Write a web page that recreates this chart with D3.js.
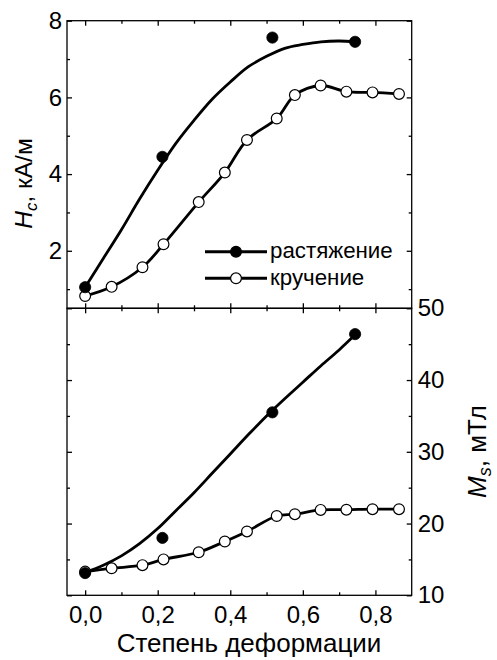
<!DOCTYPE html>
<html>
<head>
<meta charset="utf-8">
<script src="https://cdn.jsdelivr.net/npm/d3@7"></script>
<style>
  html, body { margin: 0; padding: 0; background: #fff; }
  svg { display: block; }
  text { font-family: "Liberation Sans", Arial, sans-serif; fill: #000; }
</style>
</head>
<body>
<svg id="chart" width="497" height="660"></svg>
<script>
// ---- data ----
const strainTension = [0.0, 0.213, 0.516, 0.744];
const hcTension = [1.05, 4.45, 7.56, 7.45];
const msTension = [13.1, 18.0, 35.5, 46.4];

const strainTorsion = [0.0, 0.073, 0.158, 0.216, 0.313, 0.385, 0.446, 0.528, 0.578, 0.649, 0.720, 0.792, 0.865];
const hcTorsion = [0.82, 1.06, 1.57, 2.17, 3.27, 4.04, 4.89, 5.45, 6.06, 6.31, 6.15, 6.13, 6.09];
const msTorsion = [13.3, 13.76, 14.2, 15.0, 16.0, 17.5, 18.9, 21.05, 21.3, 21.9, 21.93, 22.0, 22.0];

// fitted curves for tension
const fitStrain = [0, 0.05, 0.1, 0.15, 0.2, 0.25, 0.3, 0.35, 0.4, 0.45, 0.5, 0.55, 0.6, 0.65, 0.7, 0.744];
const hcFit = [1.05, 1.8, 2.55, 3.35, 4.1, 4.8, 5.4, 5.95, 6.4, 6.8, 7.07, 7.28, 7.38, 7.45, 7.47, 7.45];
const msFit = [13.2, 14.2, 15.5, 17.2, 19.3, 21.8, 24.3, 27.0, 29.7, 32.4, 35.0, 37.4, 39.7, 42.0, 44.2, 46.3];

const xMajorTicks = [0.0, 0.2, 0.4, 0.6, 0.8];
const xMinorTicks = [0.1, 0.3, 0.5, 0.7];
const hcMajorTicks = [2, 4, 6, 8];
const hcMinorTicks = [1, 3, 5, 7];
const msMajorTicks = [10, 20, 30, 40, 50];
const msMinorTicks = [15, 25, 35, 45];

const legendLabels = ["растяжение", "кручение"];
const xTitle = "Степень деформации";

// ---- layout ----
const L = 67, R = 411.7, T = 20.7, MID = 308.3, B = 595.3;
const svg = d3.select("#chart");

const x = d3.scaleLinear().domain([-0.05, 0.9]).range([L, R]);
const yH = d3.scaleLinear().domain([0.5, 8]).range([MID, T]);
const yM = d3.scaleLinear().domain([10, 50]).range([B, MID]);

const commaFmt = d => d3.format(".1f")(d).replace(".", ",");
const FS = 24;

function styleAxis(g) {
  g.select(".domain").remove();
  g.selectAll(".tick line").attr("stroke", "#000").attr("stroke-width", 1.3);
  g.selectAll(".tick text").attr("font-size", FS).attr("font-family", "'Liberation Sans', Arial, sans-serif").attr("fill", "#000");
}

function panelAxes(yScale, yMaj, yMin, top, bottom, showLeftLabels, showRightLabels, showBottomLabels) {
  // bottom
  svg.append("g").attr("transform", `translate(0,${bottom})`)
    .call(d3.axisBottom(x).tickValues(xMajorTicks).tickSize(-5).tickPadding(showBottomLabels ? 11 : 0)
      .tickFormat(showBottomLabels ? commaFmt : () => ""))
    .call(styleAxis);
  svg.append("g").attr("transform", `translate(0,${bottom})`)
    .call(d3.axisBottom(x).tickValues(xMinorTicks).tickSize(-3).tickFormat(() => ""))
    .call(styleAxis);
  // top
  svg.append("g").attr("transform", `translate(0,${top})`)
    .call(d3.axisTop(x).tickValues(xMajorTicks).tickSize(-5).tickFormat(() => ""))
    .call(styleAxis);
  svg.append("g").attr("transform", `translate(0,${top})`)
    .call(d3.axisTop(x).tickValues(xMinorTicks).tickSize(-3).tickFormat(() => ""))
    .call(styleAxis);
  // left
  svg.append("g").attr("transform", `translate(${L},0)`)
    .call(d3.axisLeft(yScale).tickValues(yMaj).tickSize(-5).tickPadding(5)
      .tickFormat(showLeftLabels ? d3.format("d") : () => ""))
    .call(styleAxis);
  svg.append("g").attr("transform", `translate(${L},0)`)
    .call(d3.axisLeft(yScale).tickValues(yMin).tickSize(-3).tickFormat(() => ""))
    .call(styleAxis);
  // right
  svg.append("g").attr("transform", `translate(${R},0)`)
    .call(d3.axisRight(yScale).tickValues(yMaj).tickSize(-5).tickPadding(6)
      .tickFormat(showRightLabels ? d3.format("d") : () => ""))
    .call(styleAxis);
  svg.append("g").attr("transform", `translate(${R},0)`)
    .call(d3.axisRight(yScale).tickValues(yMin).tickSize(-3).tickFormat(() => ""))
    .call(styleAxis);
  // frame
  svg.append("rect").attr("x", L).attr("y", top).attr("width", R - L).attr("height", bottom - top)
    .attr("fill", "none").attr("stroke", "#000").attr("stroke-width", 1.3);
}

panelAxes(yH, hcMajorTicks, hcMinorTicks, T, MID, true, false, false);
panelAxes(yM, msMajorTicks, msMinorTicks, MID, B, false, true, true);

// ---- series ----
function drawLine(xs, ys, yScale, curve) {
  const pts = xs.map((d, i) => [d, ys[i]]);
  svg.append("path")
    .attr("d", d3.line().x(d => x(d[0])).y(d => yScale(d[1])).curve(curve)(pts))
    .attr("fill", "none").attr("stroke", "#000").attr("stroke-width", 2.8)
    .attr("stroke-linejoin", "round").attr("stroke-linecap", "round");
}
function drawMarkers(xs, ys, yScale, filled) {
  svg.append("g").selectAll("circle").data(xs.map((d, i) => [d, ys[i]])).join("circle")
    .attr("cx", d => x(d[0])).attr("cy", d => yScale(d[1]))
    .attr("r", filled ? 5.6 : 5.4)
    .attr("fill", filled ? "#000" : "#fff")
    .attr("stroke", "#000").attr("stroke-width", filled ? 0.8 : 1.2);
}

const spline = d3.curveCatmullRom.alpha(0.5);

// top panel
drawLine(fitStrain, hcFit, yH, spline);
drawLine(strainTorsion, hcTorsion, yH, spline);
drawMarkers(strainTorsion, hcTorsion, yH, false);
drawMarkers(strainTension, hcTension, yH, true);

// bottom panel
drawLine(fitStrain, msFit, yM, spline);
drawLine(strainTorsion, msTorsion, yM, spline);
drawMarkers(strainTorsion, msTorsion, yM, false);
drawMarkers(strainTension, msTension, yM, true);

// ---- legend ----
const legY = [251.7, 278.3];
legendLabels.forEach((lab, i) => {
  svg.append("line").attr("x1", 205).attr("x2", 267).attr("y1", legY[i]).attr("y2", legY[i])
    .attr("stroke", "#000").attr("stroke-width", 3);
  svg.append("circle").attr("cx", 236).attr("cy", legY[i]).attr("r", 5.4)
    .attr("fill", i === 0 ? "#000" : "#fff").attr("stroke", "#000").attr("stroke-width", 1.2);
  svg.append("text").attr("x", 270).attr("y", legY[i] + 6.6).attr("font-size", 22.3).text(lab);
});

// ---- axis titles ----
svg.append("text").attr("x", 249).attr("y", 652).attr("text-anchor", "middle")
  .attr("font-size", 26).text(xTitle);

const lt = svg.append("text").attr("transform", "translate(32,183.5) rotate(-90)")
  .attr("text-anchor", "middle").attr("font-size", 24.5);
lt.append("tspan").attr("font-style", "italic").text("H");
lt.append("tspan").attr("font-style", "italic").attr("font-size", 17).attr("dy", 5).text("c");
lt.append("tspan").attr("dy", -5).text(", кА/м");

const rt = svg.append("text").attr("transform", "translate(486,451.5) rotate(-90)")
  .attr("text-anchor", "middle").attr("font-size", 26);
rt.append("tspan").attr("font-style", "italic").text("M");
rt.append("tspan").attr("font-style", "italic").attr("font-size", 18).attr("dy", 5).text("s");
rt.append("tspan").attr("dy", -5).text(", мТл");
</script>
</body>
</html>
